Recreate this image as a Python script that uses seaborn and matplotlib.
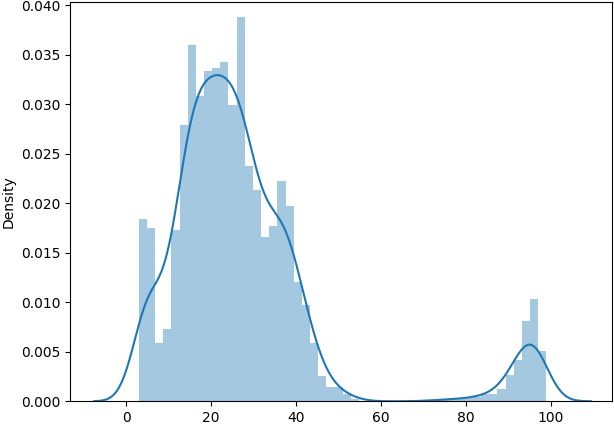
import numpy as np
import pandas as pd
import seaborn as sns
from matplotlib import pyplot as plt

# 50 equal bins from 3 to 99, density
BIN_START = 3.0
BIN_END = 99.0
DENSITY = [
    0.0183, 0.0174, 0.0058, 0.0072, 0.0172, 0.0277, 0.0357, 0.0306, 0.0331, 0.0334,
    0.0340, 0.0297, 0.0385, 0.0236, 0.0212, 0.0165, 0.0176, 0.0221, 0.0196, 0.0120,
    0.0096, 0.0058, 0.0025, 0.0014, 0.0014, 0.0007, 0.0002, 0.0000, 0.0000, 0.0000,
    0.0000, 0.0000, 0.0000, 0.0000, 0.0000, 0.0001, 0.0001, 0.0002, 0.0002, 0.0003,
    0.0003, 0.0004, 0.0007, 0.0007, 0.0012, 0.0026, 0.0041, 0.0080, 0.0102, 0.0050,
]

edges = np.linspace(BIN_START, BIN_END, len(DENSITY) + 1)
df = pd.DataFrame({"value": (edges[:-1] + edges[1:]) / 2, "w": DENSITY})

fig, ax = plt.subplots(figsize=(6.14, 4.26), dpi=100)
sns.histplot(data=df, x="value", weights="w", bins=len(DENSITY),
             binrange=(BIN_START, BIN_END), stat="density",
             color="C0", alpha=0.4, linewidth=0, ax=ax)
sns.kdeplot(data=df, x="value", weights="w", bw_adjust=0.3,
            color="C0", linewidth=1.5, ax=ax)
ax.set_xlabel("")
ax.set_ylabel("Density")
ax.set_xlim(-13.2, 114.5)
ax.set_ylim(0, 0.0403)
fig.subplots_adjust(left=0.114, right=0.997, bottom=0.058, top=0.995)
plt.savefig("out.png")
